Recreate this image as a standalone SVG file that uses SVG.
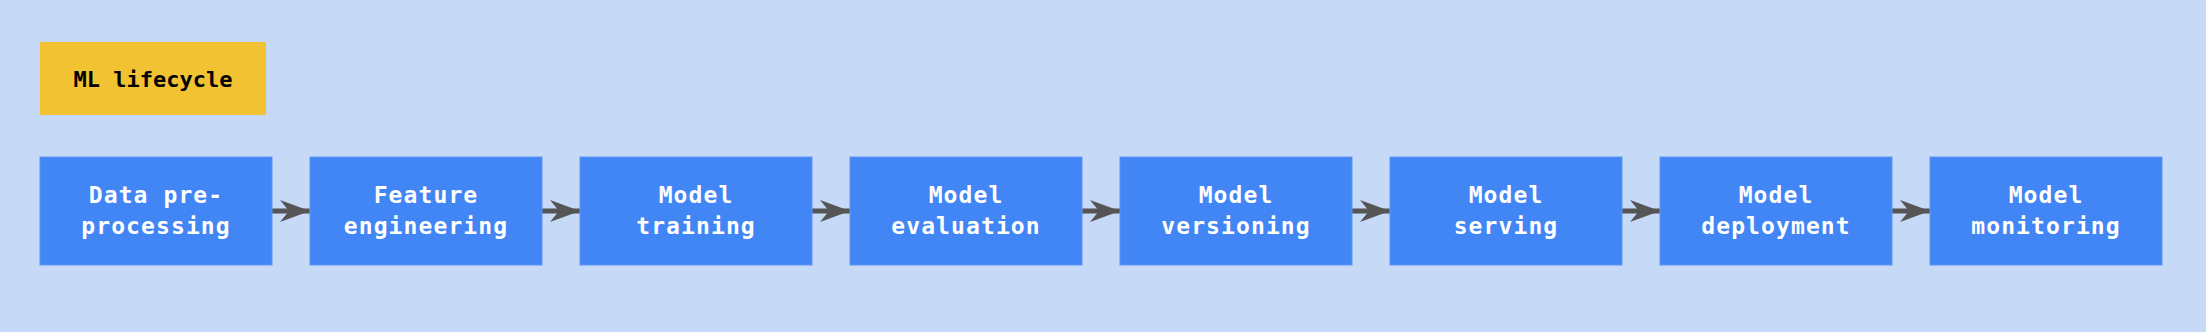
<svg xmlns="http://www.w3.org/2000/svg" width="2206" height="332" viewBox="0 0 2206 332">
<defs>
<style>
.bg{fill:#c6d9f6}
.box{fill:#4285f4;stroke:#5e97f5;stroke-width:1}
.title{fill:#f1c232}
.t{font-family:"DejaVu Sans Mono","Liberation Mono",monospace;font-weight:bold;font-size:23px;letter-spacing:1.1px;fill:#ffffff;text-anchor:middle}
.tt{font-family:"DejaVu Sans Mono","Liberation Mono",monospace;font-weight:bold;font-size:22px;fill:#000000;text-anchor:middle}
.shaft{stroke:#555555;stroke-width:5;fill:none}
.head{fill:#555555}
</style>
<marker id="ah" viewBox="0 0 30 22" refX="30" refY="11" markerWidth="30" markerHeight="22" markerUnits="userSpaceOnUse" orient="auto">
<path d="M0,0 L30,11 L0,22 L9,11 Z" class="head"/>
</marker>
</defs>
<rect class="bg" x="0" y="0" width="2206" height="332"/>
<g id="title">
<rect class="title" x="40" y="42" width="226" height="73"/>
<text class="tt" x="153" y="87">ML lifecycle</text>
</g>
<g id="connectors">
<line class="shaft" x1="272" y1="211" x2="310" y2="211" marker-end="url(#ah)"/>
<line class="shaft" x1="542" y1="211" x2="580" y2="211" marker-end="url(#ah)"/>
<line class="shaft" x1="812" y1="211" x2="850" y2="211" marker-end="url(#ah)"/>
<line class="shaft" x1="1082" y1="211" x2="1120" y2="211" marker-end="url(#ah)"/>
<line class="shaft" x1="1352" y1="211" x2="1390" y2="211" marker-end="url(#ah)"/>
<line class="shaft" x1="1622" y1="211" x2="1660" y2="211" marker-end="url(#ah)"/>
<line class="shaft" x1="1892" y1="211" x2="1930" y2="211" marker-end="url(#ah)"/>
</g>
<g id="n1"><rect class="box" x="40" y="157" width="232" height="108"/><text class="t" x="156" y="203">Data pre-</text><text class="t" x="156" y="234">processing</text></g>
<g id="n2"><rect class="box" x="310" y="157" width="232" height="108"/><text class="t" x="426" y="203">Feature</text><text class="t" x="426" y="234">engineering</text></g>
<g id="n3"><rect class="box" x="580" y="157" width="232" height="108"/><text class="t" x="696" y="203">Model</text><text class="t" x="696" y="234">training</text></g>
<g id="n4"><rect class="box" x="850" y="157" width="232" height="108"/><text class="t" x="966" y="203">Model</text><text class="t" x="966" y="234">evaluation</text></g>
<g id="n5"><rect class="box" x="1120" y="157" width="232" height="108"/><text class="t" x="1236" y="203">Model</text><text class="t" x="1236" y="234">versioning</text></g>
<g id="n6"><rect class="box" x="1390" y="157" width="232" height="108"/><text class="t" x="1506" y="203">Model</text><text class="t" x="1506" y="234">serving</text></g>
<g id="n7"><rect class="box" x="1660" y="157" width="232" height="108"/><text class="t" x="1776" y="203">Model</text><text class="t" x="1776" y="234">deployment</text></g>
<g id="n8"><rect class="box" x="1930" y="157" width="232" height="108"/><text class="t" x="2046" y="203">Model</text><text class="t" x="2046" y="234">monitoring</text></g>
</svg>
